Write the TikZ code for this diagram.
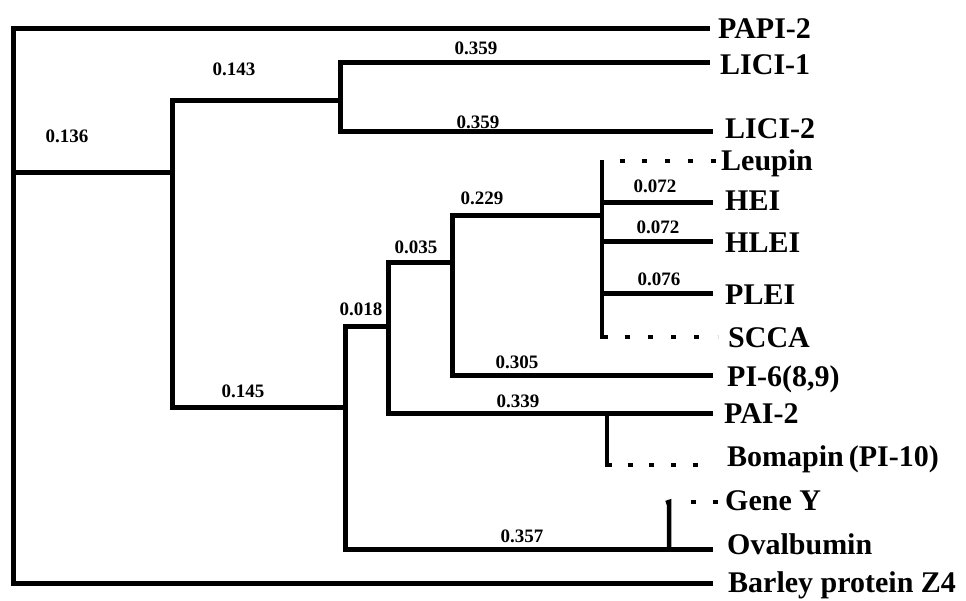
\documentclass[tikz,border=0pt]{standalone}
\usepackage{fontspec}
\setmainfont{Liberation Serif}
\begin{document}
\begin{tikzpicture}[x=1pt,y=-1pt,
  branch/.style={line width=5pt, line join=miter},
  vbar/.style={line width=4.5pt},
  dots/.style={line width=3.4pt},
  leaf/.style={anchor=base west, inner sep=0pt, font=\fontsize{30}{30}\selectfont\bfseries},
  blen/.style={anchor=base, inner sep=0pt, font=\fontsize{19}{19}\selectfont\bfseries}]
\useasboundingbox[fill=white] (0,0) rectangle (966,600);
% internal coordinates
\coordinate (rT) at (13,28);
\coordinate (rB) at (13,583);
\coordinate (rA) at (13,172);
\coordinate (A) at (172,172);
\coordinate (At) at (172,100);
\coordinate (Ab) at (172,407);
\coordinate (B) at (340,100);
\coordinate (Bt) at (340,62);
\coordinate (Bb) at (340,131);
\coordinate (C) at (345,407);
\coordinate (Ct) at (345,326);
\coordinate (Cb) at (345,549);
\coordinate (D) at (388,326);
\coordinate (Dt) at (388,262);
\coordinate (Db) at (388,413);
\coordinate (E) at (452,262);
\coordinate (Et) at (452,215);
\coordinate (Eb) at (452,375);
\coordinate (F) at (602,215);
\coordinate (Ft) at (602,160);
\coordinate (Fb) at (602,337);
\coordinate (Fhei) at (602,202);
\coordinate (Fhlei) at (602,241);
\coordinate (Fplei) at (602,293);
\coordinate (Pt) at (607,413);
\coordinate (Pb) at (607,465);
\coordinate (Gb) at (669,549);
\coordinate (Gt) at (669,502);
% leaf line ends
\coordinate (papiE) at (710,28);
\coordinate (lici1E) at (710,62);
\coordinate (lici2E) at (713,131);
\coordinate (heiE) at (713,202);
\coordinate (hleiE) at (713,241);
\coordinate (pleiE) at (713,293);
\coordinate (pi6E) at (713,375);
\coordinate (pai2E) at (713,413);
\coordinate (ovalE) at (713,549);
\coordinate (barE) at (713,583);
% dotted segment ends
\coordinate (leuS) at (619.5,161);
\coordinate (leuE) at (715.5,161);
\coordinate (sccS) at (624.5,337);
\coordinate (sccE) at (717.5,337);
\coordinate (bomS) at (627.5,465);
\coordinate (bomE) at (697.5,465);
\coordinate (genS) at (690.5,502);
\coordinate (genE) at (717.5,502);
% branches
\draw[branch] (papiE) -- (rT) -- (rB) -- (barE);
\draw[branch] (rA) -- (A);
\draw[branch] (B) -- (At) -- (Ab) -- (C);
\draw[branch] (lici1E) -- (Bt) -- (Bb) -- (lici2E);
\draw[branch] (D) -- (Ct) -- (Cb) -- (ovalE);
\draw[branch] (E) -- (Dt) -- (Db) -- (pai2E);
\draw[branch] (F) -- (Et) -- (Eb) -- (pi6E);
\draw[vbar] (Ft) -- (Fb) -- ++(6,0);
\draw[branch] (Fhei) -- (heiE);
\draw[branch] (Fhlei) -- (hleiE);
\draw[branch] (Fplei) -- (pleiE);
\draw[vbar] (Pt) -- (Pb) -- ++(5,0);
\draw[vbar] (Gb) -- (Gt) -- ++(-3,1);
% dotted links
\draw[dots, dash pattern=on 5pt off 17.75pt] (leuS) -- (leuE);
\draw[dots, dash pattern=on 5pt off 18.25pt] (sccS) -- (sccE);
\draw[dots, dash pattern=on 5pt off 16.67pt] (bomS) -- (bomE);
\draw[dots, dash pattern=on 5pt off 17pt] (genS) -- (genE);
% leaf labels
\node[leaf] (papi) at (718,38) {PAPI-2};
\node[leaf] (lici1) at (720,74) {LICI-1};
\node[leaf] (lici2) at (725,138) {LICI-2};
\node[leaf] (leu) at (721,170) {Leupin};
\node[leaf] (hei) at (725,210) {HEI};
\node[leaf] (hlei) at (725,252) {HLEI};
\node[leaf] (plei) at (725,304) {PLEI};
\node[leaf] (scca) at (728,347) {SCCA};
\node[leaf] (pi6) at (727,386) {PI-6(8,9)};
\node[leaf] (pai2) at (724,423) {PAI-2};
\node[leaf] (bom) at (727,466) {Bomapin\,(PI-10)};
\node[leaf] (gene) at (725,510) {Gene Y};
\node[leaf] (oval) at (727,554) {Ovalbumin};
\node[leaf] (bar) at (728,592) {Barley protein Z4};
% branch lengths
\node[blen] (l136) at (67,142) {0.136};
\node[blen] (l143) at (234,75) {0.143};
\node[blen] (l359a) at (476,54) {0.359};
\node[blen] (l359b) at (478,128) {0.359};
\node[blen] (l145) at (243,397) {0.145};
\node[blen] (l018) at (361,315) {0.018};
\node[blen] (l035) at (416,253) {0.035};
\node[blen] (l229) at (482,204) {0.229};
\node[blen] (l072a) at (655,192) {0.072};
\node[blen] (l072b) at (658,233) {0.072};
\node[blen] (l076) at (659,285) {0.076};
\node[blen] (l305) at (517,368) {0.305};
\node[blen] (l339) at (518,407) {0.339};
\node[blen] (l357) at (522,542) {0.357};
\end{tikzpicture}
\end{document}
